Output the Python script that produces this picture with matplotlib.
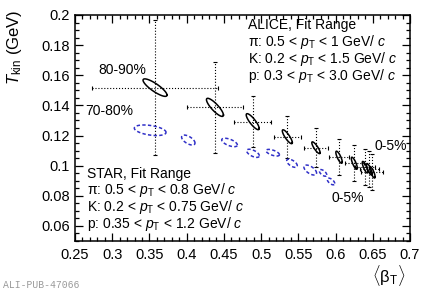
import numpy as np
import matplotlib
matplotlib.use('Agg')
import matplotlib.pyplot as plt
from matplotlib.ticker import MultipleLocator, FormatStrFormatter

plt.rcParams['font.family'] = ['Liberation Sans', 'DejaVu Sans']
plt.rcParams['mathtext.fontset'] = 'custom'
plt.rcParams['mathtext.rm'] = 'Liberation Sans'
plt.rcParams['mathtext.it'] = 'Liberation Sans:italic'

# ALICE blast-wave fit results (80-90% ... 0-5%)
alice_beta = [0.3575, 0.438, 0.4887, 0.5352, 0.5737, 0.6047, 0.6252, 0.6396, 0.6453, 0.6494]
alice_T = [0.1518, 0.1387, 0.1292, 0.1192, 0.1119, 0.1056, 0.1016, 0.0990, 0.0976, 0.0956]
alice_beta_err = [0.084, 0.038, 0.025, 0.018, 0.016, 0.013, 0.013, 0.013, 0.013, 0.015]
alice_T_err = [0.045, 0.030, 0.017, 0.014, 0.013, 0.012, 0.012, 0.012, 0.012, 0.012]
# 1-sigma contours: sigma_beta, sigma_T, correlation
alice_sx = [0.0161, 0.0114, 0.0087, 0.0067, 0.0056, 0.0043, 0.0040, 0.0037, 0.0037, 0.0037]
alice_sy = [0.0058, 0.0060, 0.0053, 0.0046, 0.0039, 0.0040, 0.0040, 0.0038, 0.0038, 0.0038]
alice_rho = [-0.85, -0.85, -0.85, -0.85, -0.85, -0.8, -0.8, -0.8, -0.8, -0.8]

# STAR (70-80% ... 0-5%)
star_beta = [0.351, 0.4022, 0.4576, 0.4891, 0.5156, 0.5415, 0.566, 0.5832, 0.5939]
star_T = [0.1235, 0.117, 0.1154, 0.1082, 0.1086, 0.1016, 0.0971, 0.0952, 0.0895]
star_sx = [0.0213, 0.009, 0.0105, 0.0085, 0.009, 0.0071, 0.0085, 0.005, 0.005]
star_sy = [0.0035, 0.0033, 0.0028, 0.0027, 0.0022, 0.0027, 0.0033, 0.0022, 0.0022]
star_rho = [-0.4, -0.6, -0.6, -0.6, -0.6, -0.6, -0.6, -0.6, -0.6]


def contour(cx, cy, sx, sy, rho):
    t = np.linspace(0, 2 * np.pi, 100)
    x = cx + sx * np.cos(t)
    y = cy + sy * (rho * np.cos(t) + np.sqrt(1 - rho ** 2) * np.sin(t))
    return x, y


fig = plt.figure(figsize=(4.22, 2.94), dpi=100)
ax = fig.add_axes([75 / 422, 1 - 241 / 294, 335 / 422, 226 / 294])

eb = ax.errorbar(alice_beta, alice_T, xerr=alice_beta_err, yerr=alice_T_err,
                 fmt='none', ecolor='black', elinewidth=0.8, capsize=1.2,
                 capthick=0.8)
for lc in eb.lines[2]:
    lc.set_linestyle(':')

for i in range(len(alice_beta)):
    x, y = contour(alice_beta[i], alice_T[i], alice_sx[i], alice_sy[i], alice_rho[i])
    ax.plot(x, y, color='black', lw=1.1)

for i in range(len(star_beta)):
    x, y = contour(star_beta[i], star_T[i], star_sx[i], star_sy[i], star_rho[i])
    ax.plot(x, y, color='#3030c8', lw=1.1, ls=(0, (2.2, 1.5)))

ax.set_xlim(0.25, 0.7)
ax.set_ylim(0.05, 0.2)
ax.xaxis.set_major_locator(MultipleLocator(0.05))
ax.xaxis.set_minor_locator(MultipleLocator(0.01))
ax.yaxis.set_major_locator(MultipleLocator(0.02))
ax.yaxis.set_minor_locator(MultipleLocator(0.005))
ax.xaxis.set_major_formatter(FormatStrFormatter('%g'))
ax.yaxis.set_major_formatter(FormatStrFormatter('%g'))
ax.tick_params(which='both', direction='in', top=True, right=True, labelsize=10.5, width=0.9)
ax.tick_params(which='major', length=6)
ax.tick_params(which='minor', length=3)
ax.tick_params(axis='x', pad=5)
for s in ax.spines.values():
    s.set_linewidth(1.1)

fig.text(15 / 422, 1 - 10 / 294, r'$T_{\rm kin}$ (GeV)', rotation=90,
         ha='center', va='top', fontsize=12)
fig.text(405 / 422, 1 - 275 / 294, r'$\langle\mathrm{β}_{\rm T}\rangle$',
         ha='right', va='center', fontsize=12)

fs = 10
ax.text(0.516, 0.956, 'ALICE, Fit Range', transform=ax.transAxes, va='center', fontsize=fs)
ax.text(0.516, 0.88, r'π: 0.5 < $p_{\rm T}$ < 1 GeV/ $c$', transform=ax.transAxes, va='center', fontsize=fs)
ax.text(0.516, 0.805, r'K: 0.2 < $p_{\rm T}$ < 1.5 GeV/ $c$', transform=ax.transAxes, va='center', fontsize=fs)
ax.text(0.516, 0.73, r'p: 0.3 < $p_{\rm T}$ < 3.0 GeV/ $c$', transform=ax.transAxes, va='center', fontsize=fs)

ax.text(0.036, 0.296, 'STAR, Fit Range', transform=ax.transAxes, va='center', fontsize=fs)
ax.text(0.036, 0.225, r'π: 0.5 < $p_{\rm T}$ < 0.8 GeV/ $c$', transform=ax.transAxes, va='center', fontsize=fs)
ax.text(0.036, 0.15, r'K: 0.2 < $p_{\rm T}$ < 0.75 GeV/ $c$', transform=ax.transAxes, va='center', fontsize=fs)
ax.text(0.036, 0.075, r'p: 0.35 < $p_{\rm T}$ < 1.2 GeV/ $c$', transform=ax.transAxes, va='center', fontsize=fs)

ax.text(0.14, 0.757, '80-90%', transform=ax.transAxes, ha='center', va='center', fontsize=fs)
ax.text(0.101, 0.575, '70-80%', transform=ax.transAxes, ha='center', va='center', fontsize=fs)
ax.text(0.943, 0.42, '0-5%', transform=ax.transAxes, ha='center', va='center', fontsize=fs)
ax.text(0.815, 0.19, '0-5%', transform=ax.transAxes, ha='center', va='center', fontsize=fs)

fig.text(3 / 422, 1 - 285 / 294, 'ALI-PUB-47066', family='Liberation Mono',
         color='#9a9a9a', fontsize=7, va='center')

fig.savefig('out.png', dpi=100)
